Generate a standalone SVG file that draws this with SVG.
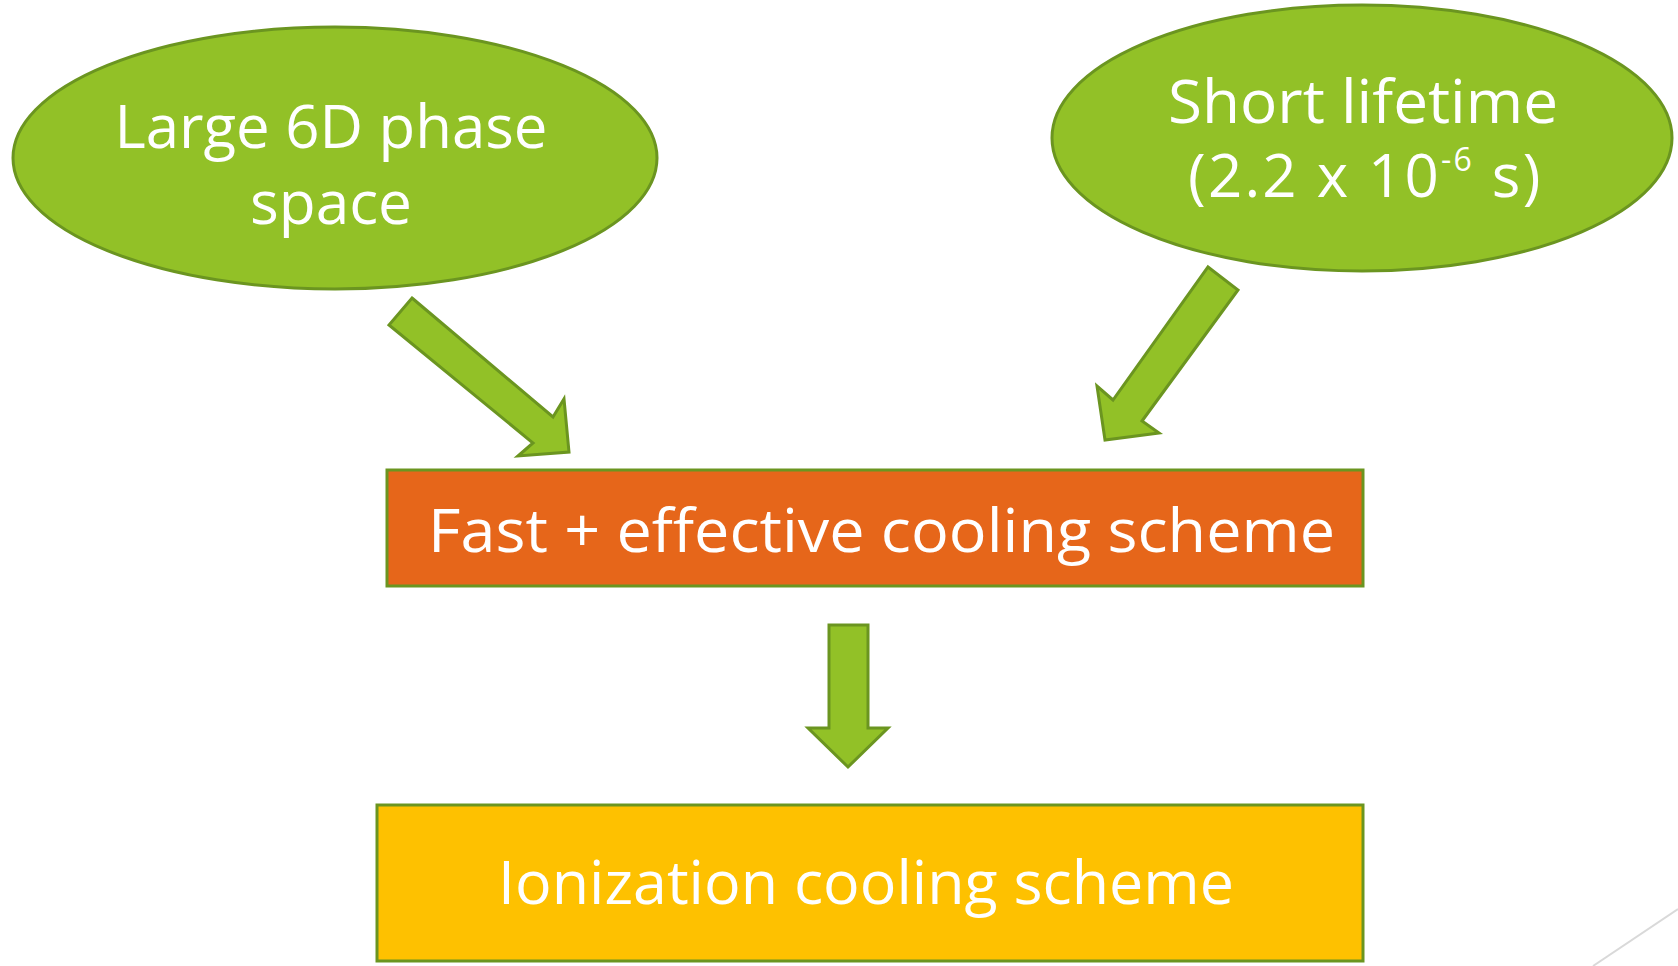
<svg xmlns="http://www.w3.org/2000/svg" width="1678" height="966" viewBox="0 0 1678 966">
<style>
.g{fill:#92c127;stroke:#6b9520;stroke-width:3;stroke-linejoin:miter}
.t{fill:#ffffff;font-family:"Open Sans","Noto Sans",sans-serif;font-size:60px}
</style>
<rect width="1678" height="966" fill="#ffffff"/>
<g id="node-large-6d">
<ellipse class="g" cx="335" cy="158" rx="322" ry="131"/>
<text class="t" x="331" y="148" text-anchor="middle" textLength="433" lengthAdjust="spacingAndGlyphs">Large 6D phase</text>
<text class="t" x="331" y="224" text-anchor="middle" textLength="162" lengthAdjust="spacingAndGlyphs">space</text>
</g>
<g id="node-short-lifetime">
<ellipse class="g" cx="1362" cy="138" rx="310" ry="133"/>
<text class="t" x="1363" y="123" text-anchor="middle" textLength="390" lengthAdjust="spacingAndGlyphs">Short lifetime</text>
<text class="t" x="1188" y="197" letter-spacing="2.2">(2.2 x 10<tspan font-size="32" dy="-26">-6</tspan><tspan dy="26"> s)</tspan></text>
</g>
<g id="node-fast-cooling">
<rect x="387" y="470" width="976" height="116" fill="#e6661a" stroke="#6b9520" stroke-width="3"/>
<text class="t" x="428" y="552" textLength="907" lengthAdjust="spacingAndGlyphs">Fast + effective cooling scheme</text>
</g>
<g id="node-ionization">
<rect x="377" y="805" width="986" height="156" fill="#fec100" stroke="#6b9520" stroke-width="3"/>
<text class="t" x="498" y="904" textLength="736" lengthAdjust="spacingAndGlyphs">Ionization cooling scheme</text>
</g>
<g id="connectors">
<polygon class="g" points="412,298 553,417 564,399 569,452 518,456 533,443 389,325"/>
<polygon class="g" points="1208,267 1238,290 1142,421 1159,433 1105,440 1097,386 1113,400"/>
<polygon class="g" points="829,625 868,625 868,728 888,728 848,767 808,728 829,728"/>
</g>
<line x1="1678" y1="909" x2="1593" y2="966" stroke="#d9d9d9" stroke-width="2"/>
</svg>
